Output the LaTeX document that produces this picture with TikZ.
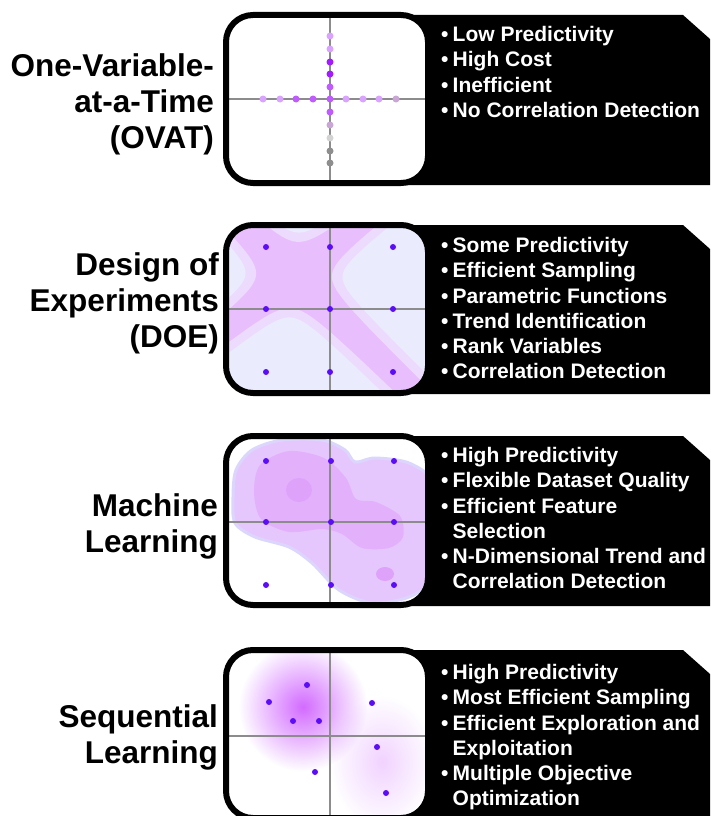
\documentclass[tikz,border=0pt]{standalone}
\usepackage{fontspec}
\setmainfont{Liberation Sans}
\usepackage{tikz}
\usetikzlibrary{fadings}

\definecolor{dotblue}{HTML}{5B0DF7}
\definecolor{axisgray}{HTML}{8C8C8C}
\definecolor{ovatlight}{HTML}{D9A3FF}
\definecolor{ovatdark}{HTML}{A21CFF}
\definecolor{ovatmid}{HTML}{C05CFF}
\definecolor{ovatgrey}{HTML}{C9A6D6}
\definecolor{lightgrey}{HTML}{D3D3D3}
\definecolor{midgrey}{HTML}{8E8E8E}
\definecolor{doepink}{HTML}{E9BEFC}
\definecolor{doelav}{HTML}{ECDBFD}
\definecolor{doeblue}{HTML}{EAECFE}
\definecolor{mlouter}{HTML}{E6C7FD}
\definecolor{mlrim}{HTML}{DCD6FD}
\definecolor{mlinner}{HTML}{E3B0FC}
\definecolor{mlspot}{HTML}{DFA2FB}
\definecolor{slpurple}{HTML}{D36BFF}

\tikzfading[name=softblob, inner color=transparent!0, outer color=transparent!100]

\tikzset{
  frame/.style={line width=6pt, rounded corners=27pt},
  banner/.style={fill=black},
  axis/.style={axisgray, line width=1.6pt},
  sample/.style={fill=dotblue},
  method/.style={anchor=east, align=right, inner sep=0pt,
    font=\bfseries\fontsize{31.5}{36}\selectfont},
  pros/.style={anchor=north west, align=left, inner sep=0pt, text=white,
    font=\bfseries\fontsize{21}{25.3}\selectfont},
}

% bullet and hanging indent for the lists
\newcommand{\pro}{\makebox[11.5pt][l]{•}}
\newcommand{\cont}{\hspace*{11.5pt}}

% one pale cell between the arms of the DOE cross
\newcommand{\doecell}[5]{%
  plot[domain=-3:3, samples=40]
    ({294+0.792*(#1)*(#3+#5*exp(\x))+0.721*(#2)*(#4+#5*exp(-(\x)))},
     {275-0.624*(#1)*(#3+#5*exp(\x))+0.705*(#2)*(#4+#5*exp(-(\x)))})
  -- ({294+237.6*(#1)+216.3*(#2)},{275-187.2*(#1)+211.5*(#2)}) -- cycle}

\begin{document}
\begin{tikzpicture}[x=1pt, y=-1pt]
    \useasboundingbox (0,0) rectangle (710,816);

    % Banners
    \foreach \ya/\yb in {15/185,225/394,436/606,650/830}
        \fill[banner] (330,\ya) -- (683,\ya) -- (710,\ya+24) -- (710,\yb) -- (330,\yb) -- cycle;

    % OVAT
    \fill[white, rounded corners=27pt] (226,15) rectangle (428,183);
    \draw[axis] (330,15) -- (330,183);
    \draw[axis] (226,99) -- (428,99);
    \foreach \y/\c in {36/ovatlight,49/ovatlight,62/ovatdark,74/ovatdark,87/ovatmid,
                       112/ovatmid,125/ovatgrey,138/lightgrey,151/midgrey,163/midgrey}
        \fill[\c] (330,\y) circle (3.5);
    \foreach \x/\c in {263/ovatlight,280/ovatlight,296/ovatmid,313/ovatmid,330/ovatmid,
                       346/ovatlight,363/ovatlight,379/ovatlight,396/ovatgrey}
        \fill[\c] (\x,99) circle (3.5);
    \draw[frame] (226,15) rectangle (428,183);

    % DOE
    \begin{scope}
        \clip[rounded corners=27pt] (226,225) rectangle (428,393);
        \fill[doepink] (226,225) rectangle (428,393);
        \foreach \sa/\sb in {1/1,1/-1,-1/1,-1/-1}
            \fill[doelav] \doecell{\sa}{\sb}{12}{10}{14};
        \foreach \sa/\sb in {1/1,1/-1,-1/1,-1/-1}
            \fill[doeblue] \doecell{\sa}{\sb}{21}{19}{12};
    \end{scope}
    \draw[axis] (330,225) -- (330,393);
    \draw[axis] (226,309) -- (428,309);
    \foreach \x in {266,330,393}
        \foreach \y in {247,309,372}
            \fill[sample] (\x,\y) circle (3);
    \draw[frame] (226,225) rectangle (428,393);

    % Machine learning
    \begin{scope}
        \clip[rounded corners=27pt] (226,436) rectangle (428,605);
        \fill[white] (226,436) rectangle (428,605);
        \filldraw[fill=mlouter, draw=mlrim, line width=3pt] plot[smooth cycle] coordinates {
            (233,497) (236,470) (252,450) (282,440) (322,440) (345,450) (355,462)
            (375,458) (409,463) (435,483) (442,530) (435,577) (409,597) (372,603)
            (339,590) (312,563) (289,547) (255,537) (235,523)};
        \fill[mlinner] plot[smooth cycle] coordinates {
            (254,492) (260,465) (289,451) (324,458) (346,478) (356,499) (376,502)
            (400,516) (403,537) (389,548) (362,548) (342,534) (322,529) (289,532)
            (261,519)};
        \fill[mlspot] (299,490) ellipse (13 and 12);
        \fill[mlspot] (385,574) ellipse (9 and 7);
    \end{scope}
    \draw[axis] (330,436) -- (330,605);
    \draw[axis] (226,522) -- (428,522);
    \foreach \x in {266,331,394}
        \foreach \y in {461,522,585}
            \fill[sample] (\x,\y) circle (3);
    \draw[frame] (226,436) rectangle (428,605);

    % Sequential learning
    \begin{scope}
        \clip[rounded corners=27pt] (226,650) rectangle (428,818);
        \fill[white] (226,650) rectangle (428,818);
        \fill[slpurple, path fading=softblob] (303,707) circle (64);
        \fill[slpurple, opacity=0.3, path fading=softblob] (382,762) ellipse (52 and 66);
    \end{scope}
    \draw[axis] (330,650) -- (330,818);
    \draw[axis] (226,736) -- (428,736);
    \foreach \x/\y in {269/702,307/685,293/721,319/721,372/703,377/747,315/772,386/793}
        \fill[sample] (\x,\y) circle (3);
    \draw[frame] (226,650) rectangle (428,818);

    % Method names
    \node[method] (ovat) at (214,104) {One-Variable-\\at-a-Time\\(OVAT)};
    \node[method] (doe) at (219,303) {Design of\\Experiments\\(DOE)};
    \node[method] (ml) at (218,526) {Machine\\Learning};
    \node[method] (sl) at (218,737) {Sequential\\Learning};

    % Pros and cons
    \node[pros] (ovatpros) at (441,26) {\pro Low Predictivity\\\pro High Cost\\\pro Inefficient\\
        \pro No Correlation Detection};
    \node[pros] (doepros) at (441,237) {\pro Some Predictivity\\\pro Efficient Sampling\\
        \pro Parametric Functions\\\pro Trend Identification\\\pro Rank Variables\\
        \pro Correlation Detection};
    \node[pros] (mlpros) at (441,447) {\pro High Predictivity\\\pro Flexible Dataset Quality\\
        \pro Efficient Feature\\\cont Selection\\\pro N-Dimensional Trend and\\
        \cont Correlation Detection};
    \node[pros] (slpros) at (441,664) {\pro High Predictivity\\\pro Most Efficient Sampling\\
        \pro Efficient Exploration and\\\cont Exploitation\\\pro Multiple Objective\\
        \cont Optimization};
\end{tikzpicture}
\end{document}
